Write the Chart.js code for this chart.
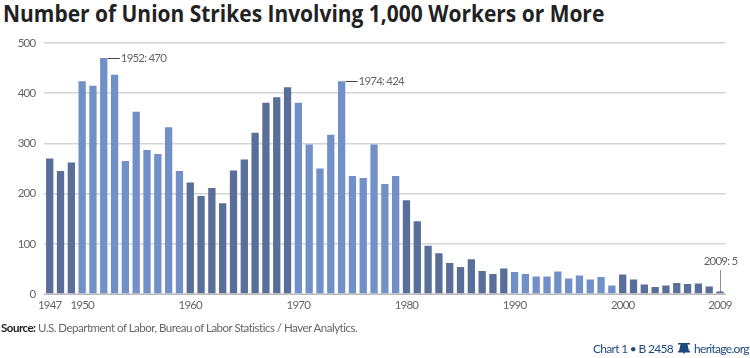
<!DOCTYPE html>
<html lang="en">
<head>
<meta charset="UTF-8">
<title>Number of Union Strikes Involving 1,000 Workers or More</title>
<style>
    body { margin: 0; background: #fff; }
    #wrap { position: relative; width: 750px; height: 358px; overflow: hidden; }
    #chart { position: absolute; left: 0; top: 0; }
    .txt { position: absolute; white-space: nowrap; }
    #head { left: 3px; top: -3px; font: bold 23.5px 'Open Sans', sans-serif; color: #222; transform-origin: 0 0; }
    #source { left: 1px; top: 321px; font: 11.5px Lato, sans-serif; letter-spacing: -0.5px; color: #666; }
    #source b { color: #222; }
    .credit { top: 341px; font: 12px Lato, sans-serif; letter-spacing: -0.7px; color: #1f4a80; }
    #chartNo { left: 593px; }
    #site { left: 694px; }
    #bell { position: absolute; left: 678px; top: 343px; }
</style>
<script src="https://cdn.jsdelivr.net/npm/chart.js"></script>
</head>
<body>
<div id="wrap">
    <div class="txt" id="head">Number of Union Strikes Involving 1,000 Workers or More</div>
    <canvas id="chart" width="750" height="358"></canvas>
    <div class="txt" id="source"><b>Source:</b> U.S. Department of Labor, Bureau of Labor Statistics / Haver Analytics.</div>
    <div class="txt credit" id="chartNo">Chart 1 • B 2458</div>
    <svg id="bell" width="12" height="11" viewBox="0 0 12 11"><path d="M0 0H12V1.5H9.5L11 8H12V9.5H0V8H1L2.5 1.5H0Z M5 9.5H7L6 11Z" fill="#1f4a80"/></svg>
    <div class="txt credit" id="site">heritage.org</div>
</div>
<script>
    const years = [1947,1948,1949,1950,1951,1952,1953,1954,1955,1956,1957,1958,1959,
        1960,1961,1962,1963,1964,1965,1966,1967,1968,1969,
        1970,1971,1972,1973,1974,1975,1976,1977,1978,1979,
        1980,1981,1982,1983,1984,1985,1986,1987,1988,1989,
        1990,1991,1992,1993,1994,1995,1996,1997,1998,1999,
        2000,2001,2002,2003,2004,2005,2006,2007,2008,2009];
    const strikes = [270,245,262,424,415,470,437,265,363,287,279,332,245,
        222,195,211,181,246,268,321,381,392,412,
        381,298,250,317,424,235,231,298,219,235,
        187,145,96,81,62,54,69,46,40,51,
        44,40,35,35,45,31,37,29,34,17,
        39,29,19,14,17,22,20,21,15,5];
    const yearLabels = [1947,1950,1960,1970,1980,1990,2000,2009];
    const callouts = [
        { year: 1952, text: '1952: 470' },
        { year: 1974, text: '1974: 424' }
    ];
    const lastCallout = { year: 2009, text: '2009: 5' };

    const darkBlue = '#596e99';
    const lightBlue = '#7190c8';

    // squeeze the title to the width it has in the print font
    const head = document.getElementById('head');
    head.style.transform = 'scaleX(' + (601 / head.offsetWidth) + ')';

    // decades alternate, starting dark for the late 1940s
    function barColor(year) {
        return Math.floor((year - 1940) / 10) % 2 === 0 ? darkBlue : lightBlue;
    }

    const calloutPlugin = {
        id: 'callouts',
        beforeDraw(chart) {
            chart.ctx.letterSpacing = '-0.8px';
        },
        afterDatasetsDraw(chart) {
            const ctx = chart.ctx;
            const x = chart.scales.x, y = chart.scales.y;
            ctx.save();
            ctx.font = '11.5px Lato, sans-serif';
            ctx.fillStyle = '#666';
            ctx.textBaseline = 'middle';
            ctx.strokeStyle = '#444';
            ctx.lineWidth = 1;
            callouts.forEach(c => {
                const px = x.getPixelForValue(years.indexOf(c.year));
                const py = Math.round(y.getPixelForValue(strikes[years.indexOf(c.year)])) + 0.5;
                ctx.beginPath();
                ctx.moveTo(px + 4, py);
                ctx.lineTo(px + 16, py);
                ctx.stroke();
                ctx.textAlign = 'left';
                ctx.fillText(c.text, px + 17, py);
            });
            const lx = Math.round(x.getPixelForValue(years.indexOf(lastCallout.year))) + 0.5;
            const ly = y.getPixelForValue(strikes[years.indexOf(lastCallout.year)]);
            ctx.setLineDash([1, 1]);
            ctx.strokeStyle = '#222';
            ctx.beginPath();
            ctx.moveTo(lx, ly);
            ctx.lineTo(lx, ly - 22);
            ctx.stroke();
            ctx.textAlign = 'center';
            ctx.fillText(lastCallout.text, lx, ly - 30);
            ctx.restore();
        }
    };

    new Chart(document.getElementById('chart'), {
        type: 'bar',
        data: {
            labels: years,
            datasets: [{
                data: strikes,
                backgroundColor: years.map(barColor),
                borderWidth: 0,
                categoryPercentage: 1,
                barPercentage: 0.675
            }]
        },
        options: {
            responsive: false,
            animation: false,
            layout: { padding: { left: 0, top: 43, right: 24.6, bottom: 34 } },
            plugins: { legend: { display: false }, tooltip: { enabled: false } },
            scales: {
                x: {
                    afterFit(scale) { scale.height = 30; },
                    grid: { drawOnChartArea: false, drawTicks: false },
                    border: { color: '#bbb', width: 1 },
                    ticks: {
                        autoSkip: false, maxRotation: 0, padding: 4,
                        color: '#666', font: { family: 'Lato', size: 11.5 },
                        callback(v, i) { return yearLabels.includes(years[i]) ? years[i] : ''; }
                    }
                },
                y: {
                    min: 0, max: 500,
                    afterFit(scale) { scale.width = 44.3; },
                    grid: { color: '#d4d4d4', lineWidth: 1.5, drawTicks: false },
                    border: { display: false },
                    ticks: {
                        stepSize: 100, padding: 9,
                        color: '#666', font: { family: 'Lato', size: 11.5 }
                    }
                }
            }
        },
        plugins: [calloutPlugin]
    });
</script>
</body>
</html>
